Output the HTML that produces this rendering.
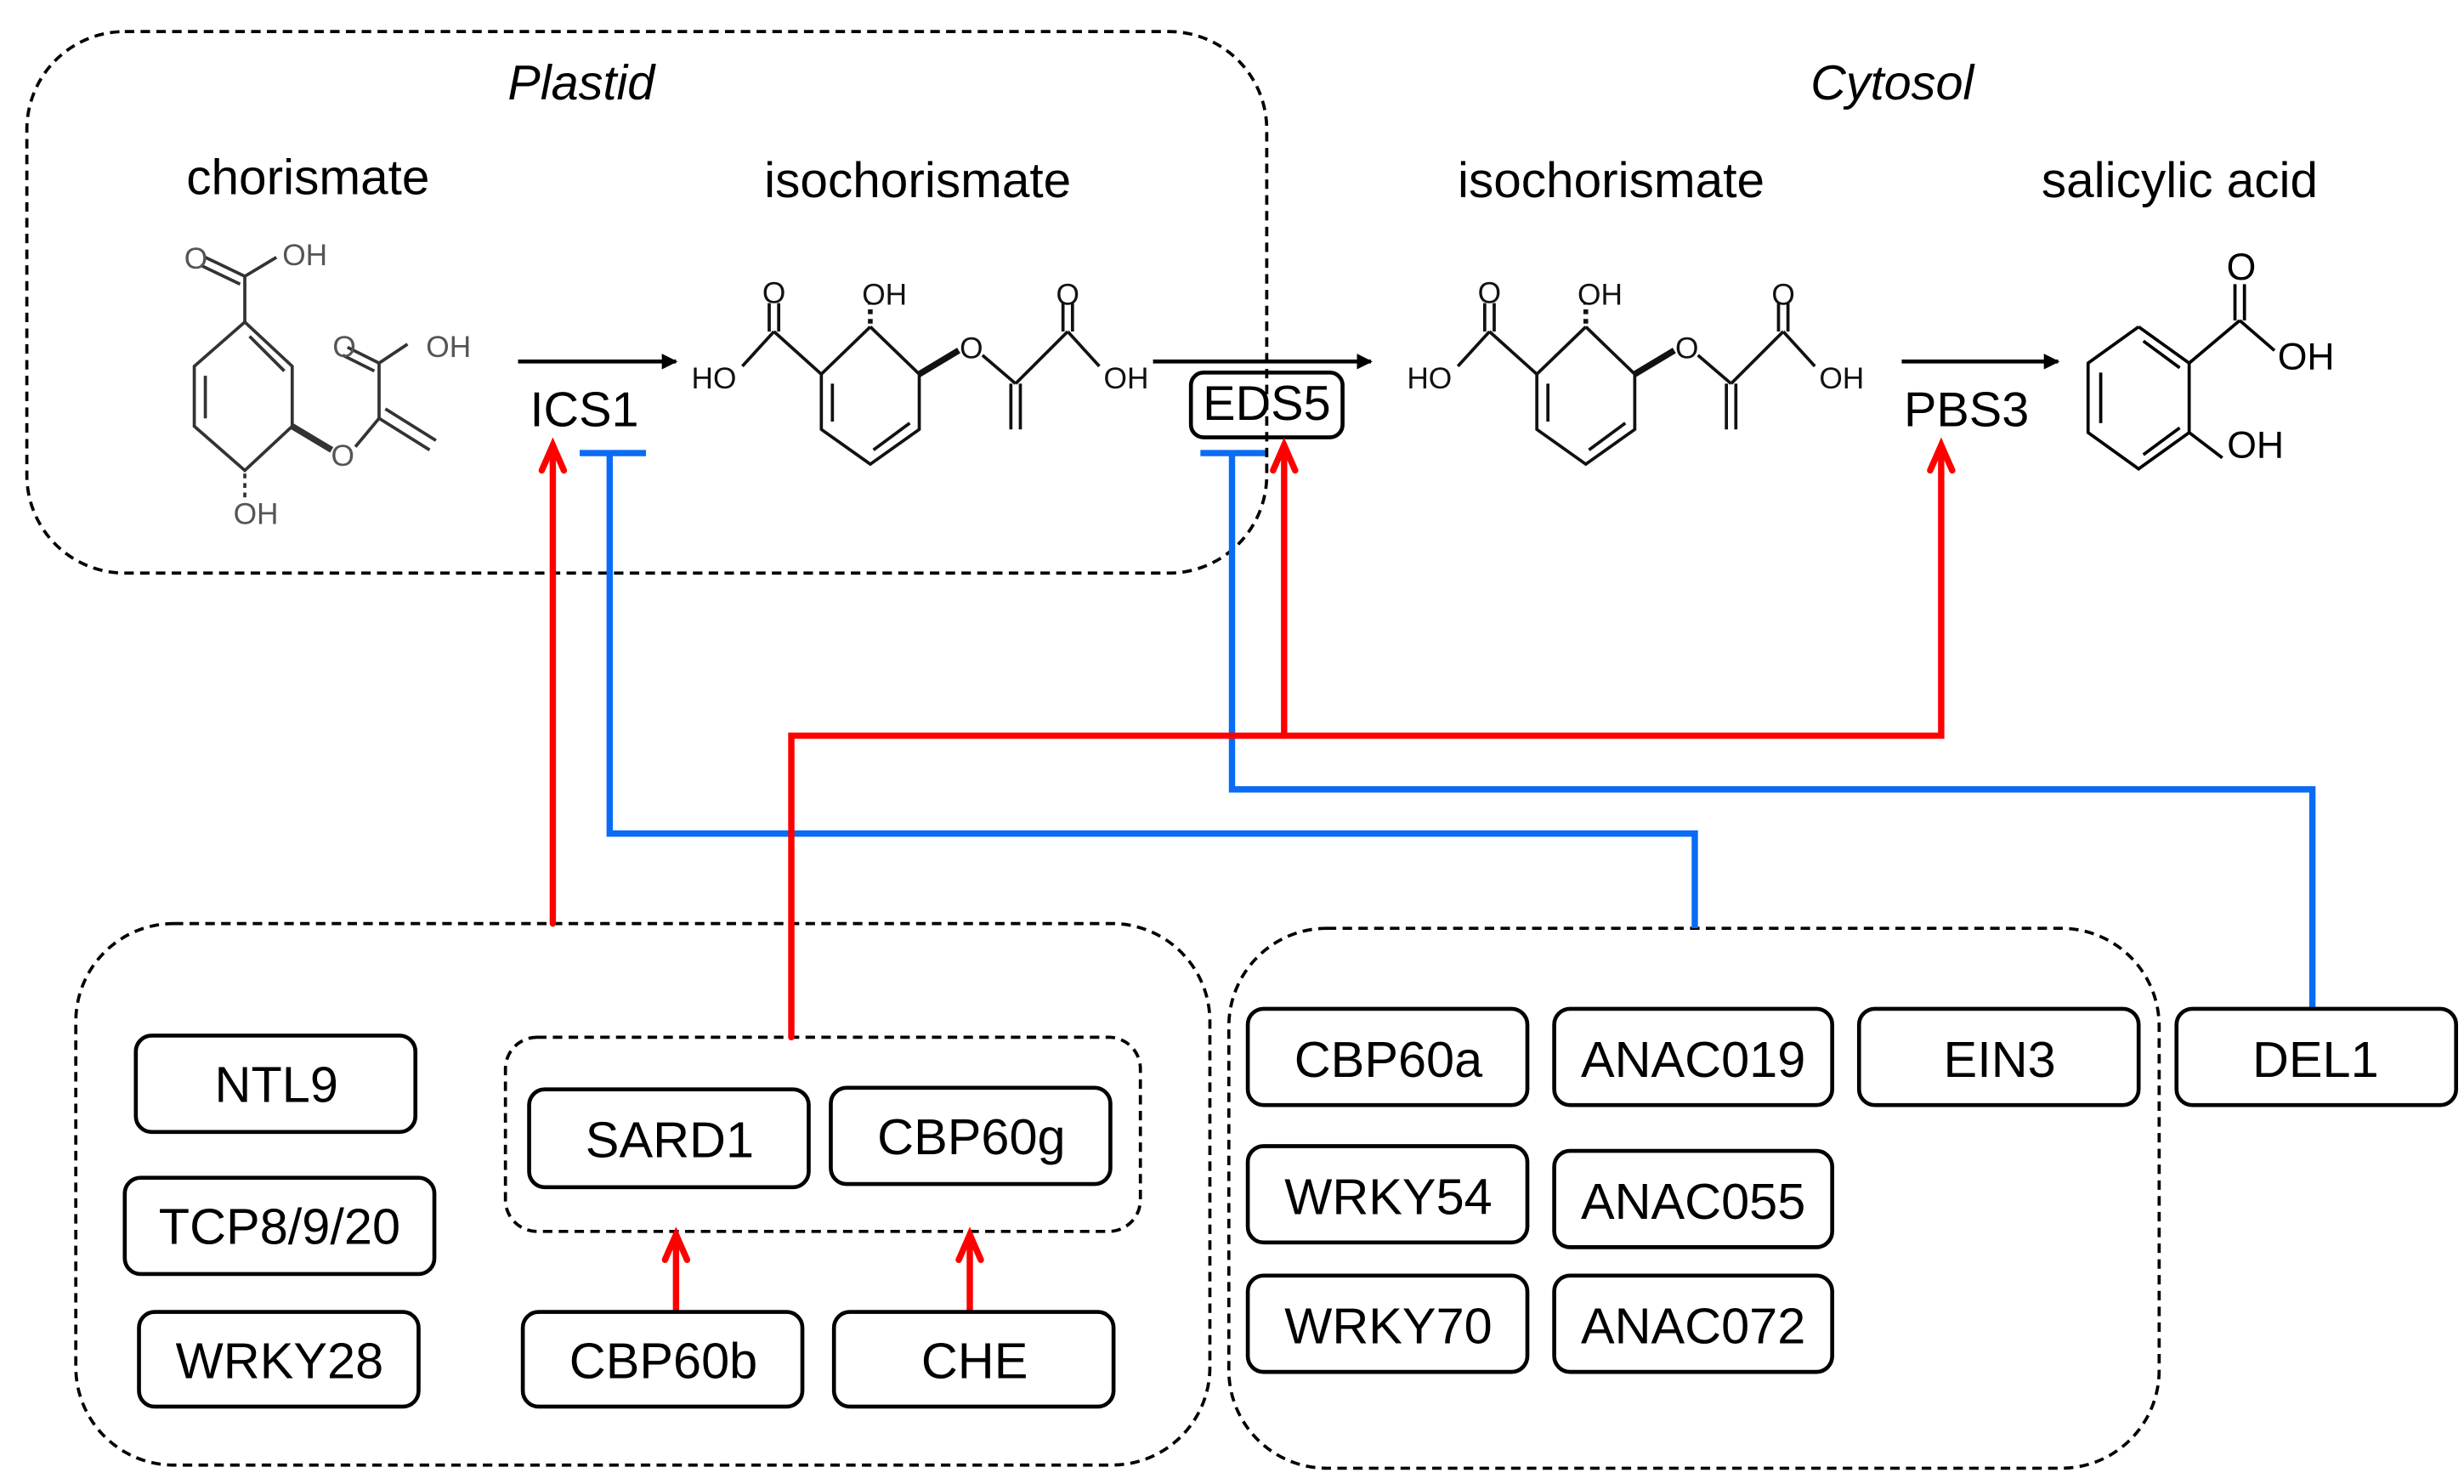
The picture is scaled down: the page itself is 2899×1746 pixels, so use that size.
<!DOCTYPE html>
<html><head><meta charset="utf-8"><style>html,body{margin:0;padding:0;background:#fff}svg{display:block}</style></head>
<body>
<svg width="2899" height="1746" viewBox="0 0 1560 940" preserveAspectRatio="none" xmlns="http://www.w3.org/2000/svg" font-family="Liberation Sans, Arial, sans-serif">
<defs>
<marker id="ab" markerWidth="10" markerHeight="10" refX="9" refY="5" orient="auto" markerUnits="userSpaceOnUse"><path d="M0,0 L10,5 L0,10 Z" fill="#000"/></marker>
</defs>
<g fill="none" stroke="#000" stroke-width="2" stroke-dasharray="6,4">
<rect x="17" y="20" width="785" height="343" rx="62"/>
<rect x="48" y="585" width="718" height="343" rx="62"/>
<rect x="778" y="588" width="589" height="342" rx="62"/>
<rect x="320" y="657" width="402" height="123" rx="20"/>
</g>
<g font-style="italic" font-size="31" text-anchor="middle">
<text x="368" y="63">Plastid</text><text x="1198" y="63">Cytosol</text>
</g>
<g font-size="31.5" text-anchor="middle">
<text x="195" y="123">chorismate</text>
<text x="581" y="125">isochorismate</text>
<text x="1020" y="125">isochorismate</text>
<text x="1380" y="125">salicylic acid</text>
</g>
<g font-size="31" text-anchor="middle">
<text x="370" y="270">ICS1</text>
<text x="802" y="266">EDS5</text>
<text x="1245" y="270">PBS3</text>
</g>
<rect x="754" y="236" width="96" height="41" rx="8" fill="none" stroke="#000" stroke-width="2.5"/>
<g stroke="#000" stroke-width="2.5" fill="none">
<line x1="328" y1="229" x2="428" y2="229" marker-end="url(#ab)"/>
<line x1="730" y1="229" x2="868" y2="229" marker-end="url(#ab)"/>
<line x1="1204" y1="229" x2="1303" y2="229" marker-end="url(#ab)"/>
</g>
<g stroke="#333" stroke-width="2" fill="none">
<polyline points="155,204 185,232 185,270 155,298 123,270 123,232 155,204"/>
<line x1="130" y1="238" x2="130" y2="265"/><line x1="158" y1="213" x2="180" y2="235"/>
<line x1="155" y1="204" x2="155" y2="175"/><line x1="155" y1="175" x2="130" y2="163"/><line x1="152" y1="180" x2="127" y2="168"/><line x1="155" y1="175" x2="175" y2="163"/>
<line x1="185" y1="270" x2="210" y2="285" stroke-width="4"/>
<line x1="225" y1="283" x2="240" y2="265"/><line x1="240" y1="265" x2="240" y2="230"/>
<line x1="240" y1="230" x2="220" y2="220"/><line x1="237" y1="235" x2="217" y2="225"/><line x1="240" y1="230" x2="258" y2="218"/>
<line x1="240" y1="265" x2="272" y2="285"/><line x1="244" y1="259" x2="276" y2="279"/>
<line x1="155" y1="300" x2="155" y2="316" stroke-dasharray="3,3"/>
</g>
<g font-size="19" fill="#555" text-anchor="middle">
<text x="124" y="170">O</text><text x="193" y="168">OH</text>
<text x="218" y="226">O</text><text x="284" y="226">OH</text>
<text x="217" y="295">O</text><text x="162" y="332">OH</text>
</g>
<g id="iso">
<g stroke="#111" stroke-width="2" fill="none">
<polyline points="551,207 582,237 582,272 551,294 520,272 520,237 551,207"/>
<line x1="527" y1="243" x2="527" y2="267"/><line x1="553" y1="285" x2="576" y2="268"/>
<line x1="520" y1="237" x2="490" y2="210"/><line x1="487" y1="210" x2="487" y2="192"/><line x1="493" y1="210" x2="493" y2="192"/><line x1="490" y1="210" x2="470" y2="232"/>
<line x1="551" y1="205" x2="551" y2="192" stroke-dasharray="3,3" stroke-width="3"/>
<line x1="582" y1="237" x2="607" y2="222" stroke-width="4"/>
<line x1="622" y1="225" x2="643" y2="243"/><line x1="643" y1="243" x2="676" y2="210"/>
<line x1="673" y1="210" x2="673" y2="192"/><line x1="679" y1="210" x2="679" y2="192"/><line x1="676" y1="210" x2="696" y2="232"/>
<line x1="640" y1="243" x2="640" y2="272"/><line x1="646" y1="243" x2="646" y2="272"/>
</g>
<g font-size="19" fill="#111" text-anchor="middle">
<text x="490" y="192">O</text><text x="560" y="193">OH</text><text x="676" y="193">O</text>
<text x="452" y="246">HO</text><text x="615" y="227">O</text><text x="713" y="246">OH</text>
</g>
</g>
<use href="#iso" x="453" y="0"/>
<g stroke="#000" stroke-width="2" fill="none">
<polyline points="1354,207 1386,230 1386,274 1354,297 1322,274 1322,230 1354,207"/>
<line x1="1330" y1="236" x2="1330" y2="268"/><line x1="1357" y1="216" x2="1380" y2="233"/><line x1="1357" y1="288" x2="1380" y2="271"/>
<line x1="1386" y1="230" x2="1418" y2="203"/><line x1="1415" y1="203" x2="1415" y2="180"/><line x1="1421" y1="203" x2="1421" y2="180"/><line x1="1418" y1="203" x2="1440" y2="222"/>
<line x1="1386" y1="274" x2="1407" y2="290"/>
</g>
<g font-size="24" text-anchor="middle"><text x="1419" y="177">O</text><text x="1460" y="234">OH</text><text x="1428" y="290">OH</text></g>
<g stroke="#0a6cf5" stroke-width="4" fill="none">
<line x1="367" y1="287" x2="409" y2="287"/>
<polyline points="386,287 386,528 1073,528 1073,588"/>
<line x1="760" y1="287" x2="801" y2="287"/>
<polyline points="780,287 780,500 1464,500 1464,639"/>
</g>
<g stroke="#f00" stroke-width="4" fill="none" stroke-linecap="round">
<line x1="350" y1="585" x2="350" y2="284"/><polyline points="343,298 350,282 357,298"/>
<polyline points="501,657 501,466 1229,466 1229,284"/><polyline points="1222,298 1229,282 1236,298"/>
<line x1="813" y1="466" x2="813" y2="284"/><polyline points="806,298 813,282 820,298"/>
<line x1="428" y1="831" x2="428" y2="784"/><polyline points="421,798 428,782 435,798"/>
<line x1="614" y1="831" x2="614" y2="784"/><polyline points="607,798 614,782 621,798"/>
</g>
<g fill="#fff" stroke="#000" stroke-width="2.5">
<rect x="86" y="656" width="177" height="61" rx="10"/>
<rect x="79" y="746" width="196" height="61" rx="10"/>
<rect x="88" y="831" width="177" height="60" rx="10"/>
<rect x="335" y="690" width="177" height="62" rx="10"/>
<rect x="526" y="689" width="177" height="61" rx="10"/>
<rect x="331" y="831" width="177" height="60" rx="10"/>
<rect x="528" y="831" width="177" height="60" rx="10"/>
<rect x="790" y="639" width="177" height="61" rx="10"/>
<rect x="984" y="639" width="176" height="61" rx="10"/>
<rect x="1177" y="639" width="177" height="61" rx="10"/>
<rect x="1378" y="639" width="177" height="61" rx="10"/>
<rect x="790" y="726" width="177" height="61" rx="10"/>
<rect x="984" y="729" width="176" height="61" rx="10"/>
<rect x="790" y="808" width="177" height="61" rx="10"/>
<rect x="984" y="808" width="176" height="61" rx="10"/>
</g>
<g font-size="32" text-anchor="middle">
<text x="175" y="698">NTL9</text>
<text x="177" y="788">TCP8/9/20</text>
<text x="177" y="873">WRKY28</text>
<text x="424" y="733">SARD1</text>
<text x="615" y="731">CBP60g</text>
<text x="420" y="873">CBP60b</text>
<text x="617" y="873">CHE</text>
<text x="879" y="682">CBP60a</text>
<text x="1072" y="682">ANAC019</text>
<text x="1266" y="682">EIN3</text>
<text x="1466" y="682">DEL1</text>
<text x="879" y="769">WRKY54</text>
<text x="1072" y="772">ANAC055</text>
<text x="879" y="851">WRKY70</text>
<text x="1072" y="851">ANAC072</text>
</g>
</svg>
</body></html>
